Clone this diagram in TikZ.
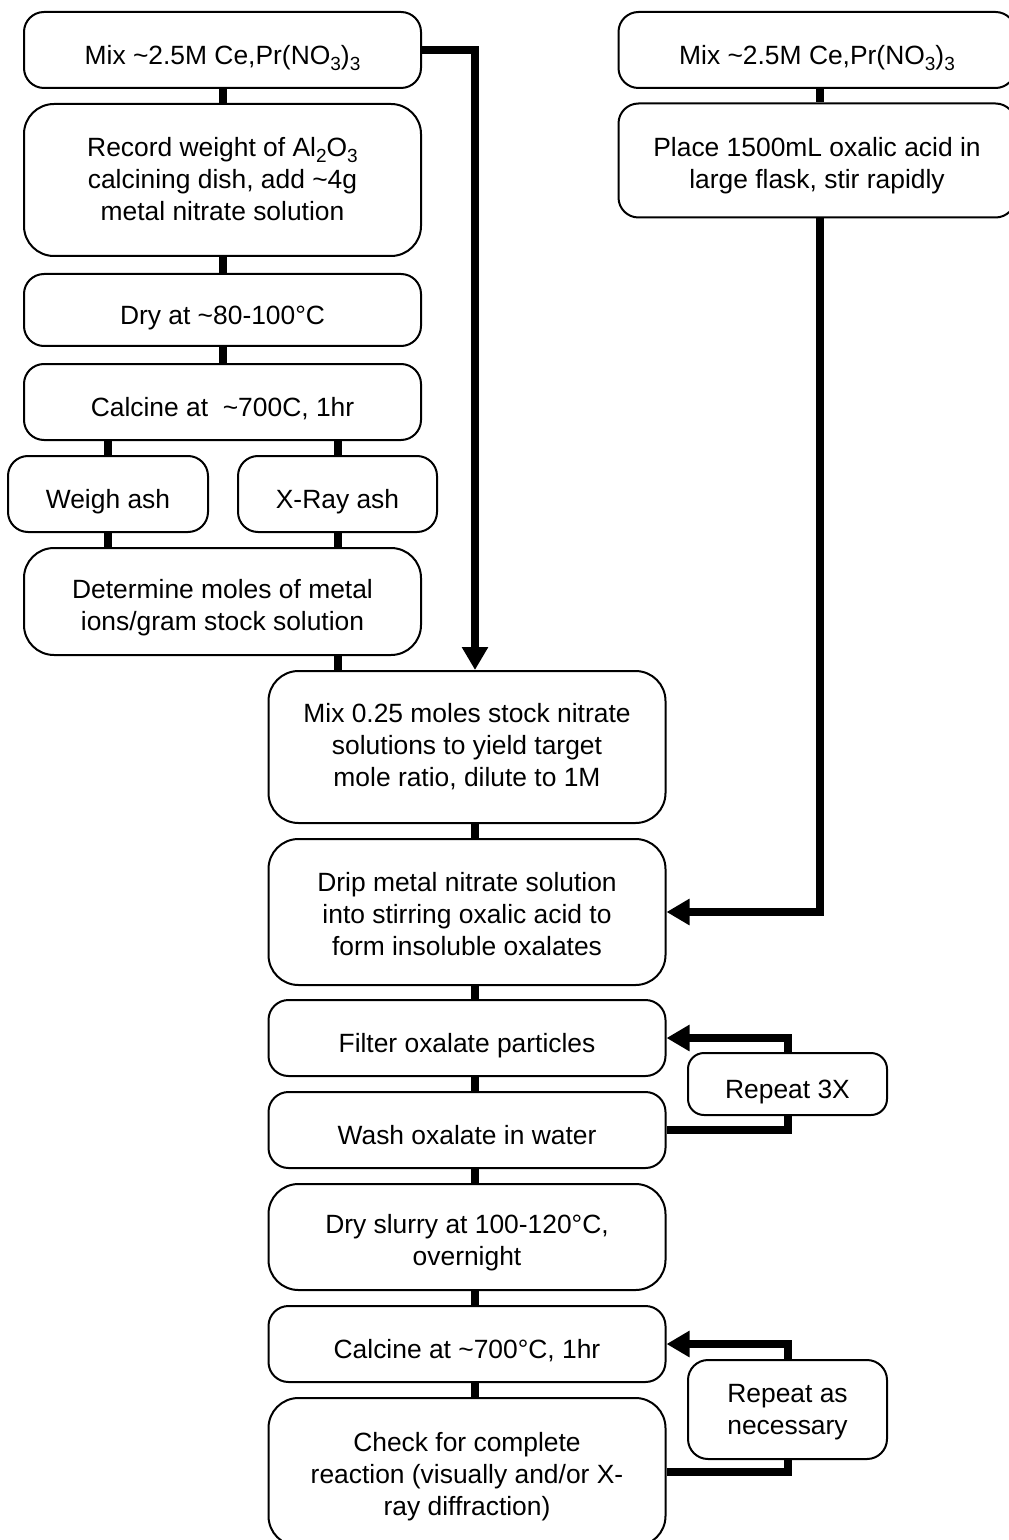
\documentclass[tikz,border=0pt]{standalone}
\usepackage{fontspec}
\setmainfont{Liberation Sans}
\usetikzlibrary{arrows.meta}
\newcommand{\subidx}[1]{\raisebox{-0.4ex}{\fontsize{9.5}{10}\selectfont#1}}
\tikzset{
  box/.style={draw, line width=1pt, rounded corners=10pt, align=center, inner sep=2pt,
    font=\fontsize{13.2}{16}\selectfont, minimum width=198.5pt, minimum height=38pt},
  tall/.style={rounded corners=15pt},
  small/.style={minimum width=99.5pt},
  lines/.style={text height=#1, text depth=0pt},
  oneline/.style={lines=14.8pt},
  link/.style={line width=4pt},
  feed/.style={line width=4pt, -{Triangle[length=11.5pt,width=12.5pt]}}
}
\begin{document}
\begin{tikzpicture}[x=0.5pt, y=-0.5pt]
  \useasboundingbox (0,0) rectangle (1008,1540);
  % left column: stock solution assay
  \node[box, oneline] (mixL) at (222.5,50) {Mix \textasciitilde2.5M Ce,Pr(NO\subidx{3})\subidx{3}};
  \node[box, lines=40.5pt, tall, minimum height=76pt] (record) at (222.5,180) {Record weight of Al\subidx{2}O\subidx{3}\\calcining dish, add \textasciitilde4g\\metal nitrate solution};
  \node[box, oneline, minimum height=36pt] (dry) at (222.5,310) {Dry at \textasciitilde80-100°C};
  \node[box, oneline] (calc) at (222.5,402) {Calcine at \ \textasciitilde700C, 1hr};
  \node[box, oneline, small, minimum width=100pt] (weigh) at (108,494) {Weigh ash};
  \node[box, oneline, small] (xray) at (337.5,494) {X-Ray ash};
  \node[box, lines=28.5pt, tall, minimum height=53.5pt] (determine) at (222.5,601.5) {Determine moles of metal\\ions/gram stock solution};
  % right column: oxalic acid
  \node[box, oneline] (mixR) at (817,50) {Mix \textasciitilde2.5M Ce,Pr(NO\subidx{3})\subidx{3}};
  \node[box, lines=28pt, minimum height=57pt] (place) at (817,160.5) {Place 1500mL oxalic acid in\\large flask, stir rapidly};
  % middle column: precipitation
  \node[box, lines=39.5pt, tall, minimum height=76pt] (mix25) at (467,747) {Mix 0.25 moles stock nitrate\\solutions to yield target\\mole ratio, dilute to 1M};
  \node[box, lines=43.5pt, tall, minimum height=73pt] (drip) at (467,912) {Drip metal nitrate solution\\into stirring oxalic acid to\\form insoluble oxalates};
  \node[box, oneline] (filter) at (467,1038) {Filter oxalate particles};
  \node[box, oneline] (wash) at (467,1130) {Wash oxalate in water};
  \node[box, lines=28.5pt, tall, minimum height=53pt] (slurry) at (467,1237) {Dry slurry at 100-120°C,\\overnight};
  \node[box, oneline] (calc2) at (467,1344) {Calcine at \textasciitilde700°C, 1hr};
  \node[box, lines=43pt, tall, minimum height=74pt] (check) at (467,1472) {Check for complete\\reaction (visually and/or X-\\ray diffraction)};
  \node[box, oneline, small, minimum height=31pt, rounded corners=8pt] (rep3) at (787.5,1084) {Repeat 3X};
  \node[box, lines=25pt, small, minimum height=49.5pt] (repN) at (787.5,1409.5) {Repeat as\\necessary};

  \coordinate (midline) at (475,0);
  \coordinate (rightline) at (820,0);
  \coordinate (loopline) at (788,0);

  % connectors
  \draw[link] (mixL.south) -- (record.north);
  \draw[link] (record.south) -- (dry.north);
  \draw[link] (dry.south) -- (calc.north);
  \draw[link] (calc.south -| weigh) -- (weigh.north);
  \draw[link] (calc.south -| xray) -- (xray.north);
  \draw[link] (weigh.south) -- (determine.north -| weigh);
  \draw[link] (xray.south) -- (determine.north -| xray);
  \draw[link] (determine.south -| xray) -- (mix25.north -| xray);
  \draw[feed] (mixL.east) -| (mix25.north -| midline);
  \draw[link] (mixR.south -| rightline) -- (place.north -| rightline);
  \draw[feed] (place.south -| rightline) |- (drip.east);
  \draw[link] (mix25.south -| midline) -- (drip.north -| midline);
  \draw[link] (drip.south -| midline) -- (filter.north -| midline);
  \draw[link] (filter.south -| midline) -- (wash.north -| midline);
  \draw[link] (wash.south -| midline) -- (slurry.north -| midline);
  \draw[link] (slurry.south -| midline) -- (calc2.north -| midline);
  \draw[link] (calc2.south -| midline) -- (check.north -| midline);
  % repeat loops
  \draw[link] (wash.east) -| (rep3.south -| loopline);
  \draw[feed] (rep3.north -| loopline) |- (filter.east);
  \draw[link] (check.east) -| (repN.south -| loopline);
  \draw[feed] (repN.north -| loopline) |- (calc2.east);
\end{tikzpicture}
\end{document}
